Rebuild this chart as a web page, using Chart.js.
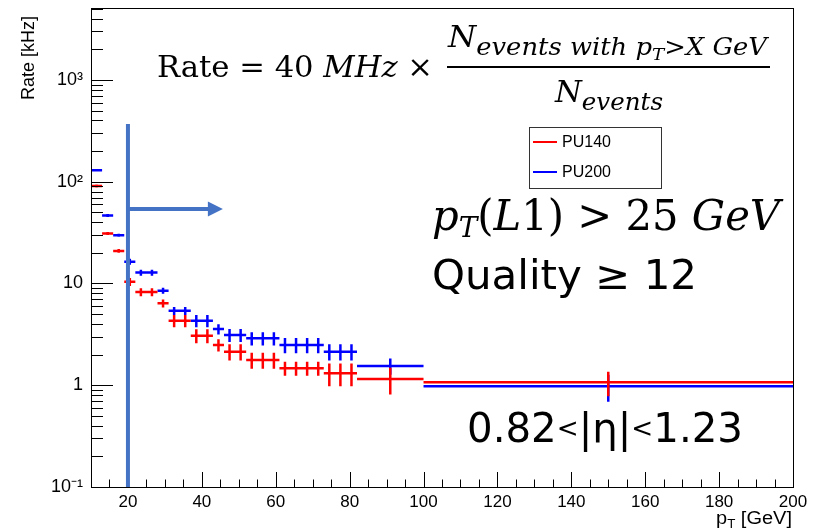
<!DOCTYPE html>
<html>
<head>
<meta charset="utf-8">
<script src="https://cdn.jsdelivr.net/npm/chart.js@4/dist/chart.umd.min.js"></script>
<style>
  html, body { margin: 0; padding: 0; background: #fff; }
  canvas { display: block; }
</style>
</head>
<body>
<canvas id="rate-chart" width="817" height="532"></canvas>
<script>
// bin edges in GeV (3 GeV bins up to 82, then two wide bins)
var binEdges = [10, 13, 16, 19, 22, 25, 28, 31, 34, 37, 40, 43, 46, 49, 52, 55, 58, 61, 64, 67, 70, 73, 76, 79, 82, 100, 200];

// rate per bin in kHz
var pu140Rate = [90.8, 31.0, 20.9, 10.4, 8.25, 8.25, 6.4, 4.3, 4.3, 3.07, 3.07, 2.49, 2.14, 2.14, 1.77, 1.77, 1.77, 1.47, 1.47, 1.47, 1.47, 1.31, 1.31, 1.31, 1.15, 1.07];
var pu140Err  = [3.0, 1.0, 0.9, 0.95, 0.75, 0.75, 0.58, 0.59, 0.59, 0.49, 0.49, 0.34, 0.39, 0.39, 0.32, 0.32, 0.32, 0.23, 0.23, 0.23, 0.23, 0.33, 0.33, 0.33, 0.34, 0.29];
var pu200Rate = [130, 46.6, 29.8, 16.4, 12.8, 12.8, 8.5, 5.4, 5.4, 4.3, 4.3, 3.57, 3.12, 3.12, 2.89, 2.89, 2.89, 2.49, 2.49, 2.49, 2.49, 2.14, 2.14, 2.14, 1.55, 0.98];
var pu200Err  = [3.0, 1.5, 1.0, 1.1, 0.87, 0.87, 0.58, 0.49, 0.49, 0.59, 0.59, 0.41, 0.46, 0.46, 0.43, 0.43, 0.43, 0.43, 0.43, 0.43, 0.43, 0.39, 0.39, 0.39, 0.28, 0.29];

var xTickValues = [20, 40, 60, 80, 100, 120, 140, 160, 180, 200];
var yTickValues = [0.1, 1, 10, 100, 1000];
var yTickLabels = ['10\u207B\u00B9', '1', '10', '10\u00B2', '10\u00B3'];

// horizontal bar for the bin width + vertical error bar, separated by gaps
function histPoints(rate, err) {
    var pts = [];
    rate.forEach(function (v, i) {
        var lo = binEdges[i], hi = binEdges[i + 1], c = (lo + hi) / 2;
        pts.push({ x: lo, y: v }, { x: hi, y: v }, { x: hi, y: null });
        pts.push({ x: c, y: v - err[i] }, { x: c, y: v + err[i] }, { x: c, y: null });
    });
    return pts;
}

function serif(n, it) { return (it ? 'italic ' : '') + n + 'px "DejaVu Serif"'; }
function sans(n) { return n + 'px "DejaVu Sans"'; }
function helv(n) { return n + 'px "Liberation Sans", Arial'; }

// draw a run of pieces [text, font, dy] squeezed between x0 and x1
function textRun(ctx, pieces, x0, x1, base) {
    var total = 0;
    pieces.forEach(function (p) { ctx.font = p[1]; p.w = ctx.measureText(p[0]).width; total += p.w; });
    ctx.save();
    ctx.translate(x0, base);
    ctx.scale((x1 - x0) / total, 1);
    var x = 0;
    pieces.forEach(function (p) { ctx.font = p[1]; ctx.fillText(p[0], x, p[2] || 0); x += p.w; });
    ctx.restore();
}

var rootStyle = {
    id: 'rootStyle',
    afterDatasetsDraw: function (chart) {
        var ctx = chart.ctx, a = chart.chartArea;
        var xs = chart.scales.x, ys = chart.scales.y;
        ctx.save();
        ctx.strokeStyle = '#000';
        ctx.fillStyle = '#000';
        ctx.lineWidth = 1;
        ctx.strokeRect(a.left + 0.5, a.top + 0.5, a.right - a.left, a.bottom - a.top);

        // inward ticks
        ctx.beginPath();
        for (var v = 10; v <= 200; v += 5) {
            var px = Math.round(xs.getPixelForValue(v)) + 0.5;
            var len = (v % 20 === 0) ? 15 : 7.5;
            ctx.moveTo(px, a.bottom); ctx.lineTo(px, a.bottom - len);
        }
        for (var d = -1; d <= 3; d++) {
            for (var k = 1; k <= 9; k++) {
                var val = k * Math.pow(10, d);
                if (val > ys.max) break;
                var py = Math.round(ys.getPixelForValue(val)) + 0.5;
                ctx.moveTo(a.left, py); ctx.lineTo(a.left + (k === 1 ? 22 : 12), py);
            }
        }
        ctx.stroke();

        // axis titles
        ctx.textBaseline = 'alphabetic';
        ctx.save();
        ctx.translate(34, 100);
        ctx.rotate(-Math.PI / 2);
        ctx.font = helv(18);
        ctx.fillText('Rate [kHz]', 0, 0);
        ctx.restore();
        textRun(ctx, [['p', helv(18)], ['T', helv(12), 4], [' [GeV]', helv(18)]], 716, 792, 524);

        // legend
        var lx = 529, ly = 127, lw = 132, lh = 61;
        ctx.fillStyle = '#fff';
        ctx.fillRect(lx, ly, lw, lh);
        ctx.strokeStyle = '#333';
        ctx.strokeRect(lx + 0.5, ly + 0.5, lw, lh);
        ctx.fillStyle = '#000';
        ctx.font = helv(16);
        ctx.textBaseline = 'middle';
        chart.data.datasets.forEach(function (ds, i) {
            var y = 142 + i * 30;
            ctx.strokeStyle = ds.borderColor;
            ctx.lineWidth = 2;
            ctx.beginPath(); ctx.moveTo(533, y); ctx.lineTo(557, y); ctx.stroke();
            ctx.fillText(ds.label, 562, y + 1);
        });
        ctx.textBaseline = 'alphabetic';

        // slide annotations
        textRun(ctx, [['Rate = 40 ', serif(30)], ['MHz', serif(30, true)], [' \u00D7', serif(30)]], 157, 433, 77);
        textRun(ctx, [['N', serif(30, true)], ['events with ', serif(24, true), 8], ['p', serif(24, true), 8],
            ['T', serif(17, true), 13], ['>', serif(24), 8], ['X GeV', serif(24, true), 8]], 448, 767, 47);
        ctx.fillRect(447, 66, 323, 2);
        textRun(ctx, [['N', serif(30, true)], ['events', serif(24, true), 8]], 555, 663, 102);
        textRun(ctx, [['p', serif(42, true)], ['T', serif(28, true), 7], ['(', serif(42)], ['L', serif(42, true)],
            ['1) > 25 ', serif(42)], ['GeV', serif(42, true)]], 432, 780, 230);
        textRun(ctx, [['Quality \u2265 12', sans(40)]], 432, 697, 289);
        textRun(ctx, [['0.82', sans(40)], ['<', sans(26), -5], ['|\u03B7|', sans(40)], ['<', sans(26), -5], ['1.23', sans(40)]], 467, 743, 442);

        // threshold marker at 20 GeV with arrow
        var cx = xs.getPixelForValue(20);
        var topY = ys.getPixelForValue(370);
        var arY = ys.getPixelForValue(54);
        var tip = xs.getPixelForValue(45.7);
        ctx.strokeStyle = '#4472c4';
        ctx.fillStyle = '#4472c4';
        ctx.lineWidth = 4;
        ctx.beginPath();
        ctx.moveTo(cx, topY); ctx.lineTo(cx, a.bottom);
        ctx.moveTo(cx, arY); ctx.lineTo(tip - 14, arY);
        ctx.stroke();
        ctx.beginPath();
        ctx.moveTo(tip, arY); ctx.lineTo(tip - 15, arY - 7.5); ctx.lineTo(tip - 15, arY + 7.5);
        ctx.closePath(); ctx.fill();
        ctx.restore();
    }
};

var ctx = document.getElementById('rate-chart').getContext('2d');
new Chart(ctx, {
    type: 'line',
    data: {
        datasets: [
            { label: 'PU140', data: histPoints(pu140Rate, pu140Err), borderColor: '#ff0000' },
            { label: 'PU200', data: histPoints(pu200Rate, pu200Err), borderColor: '#0000ff' }
        ]
    },
    options: {
        responsive: false,
        animation: false,
        devicePixelRatio: 1,
        layout: { padding: { top: 8, right: 24, left: 0, bottom: 0 } },
        elements: {
            line: { borderWidth: 2.5, tension: 0, fill: false },
            point: { radius: 0, hoverRadius: 0 }
        },
        plugins: { legend: { display: false }, tooltip: { enabled: false } },
        events: [],
        scales: {
            x: {
                type: 'linear', min: 10, max: 200,
                grid: { display: false, drawTicks: false },
                border: { display: false },
                ticks: { autoSkip: false, maxRotation: 0, padding: 5, color: '#000', font: { family: '"Liberation Sans", Arial', size: 17 } },
                afterBuildTicks: function (s) { s.ticks = xTickValues.map(function (v) { return { value: v }; }); },
                afterFit: function (s) { s.height = 45; s.paddingLeft = 0; s.paddingRight = 0; }
            },
            y: {
                type: 'logarithmic', min: 0.1, max: 5100,
                grid: { display: false, drawTicks: false },
                border: { display: false },
                ticks: {
                    autoSkip: false, padding: 8, color: '#000', font: { family: '"Liberation Sans", Arial', size: 18 },
                    callback: function (v) { var i = yTickValues.indexOf(v); return i < 0 ? '' : yTickLabels[i]; }
                },
                afterBuildTicks: function (s) { s.ticks = yTickValues.map(function (v) { return { value: v }; }); },
                afterFit: function (s) { s.width = 91; s.paddingTop = 0; s.paddingBottom = 0; }
            }
        }
    },
    plugins: [rootStyle]
});
</script>
</body>
</html>
